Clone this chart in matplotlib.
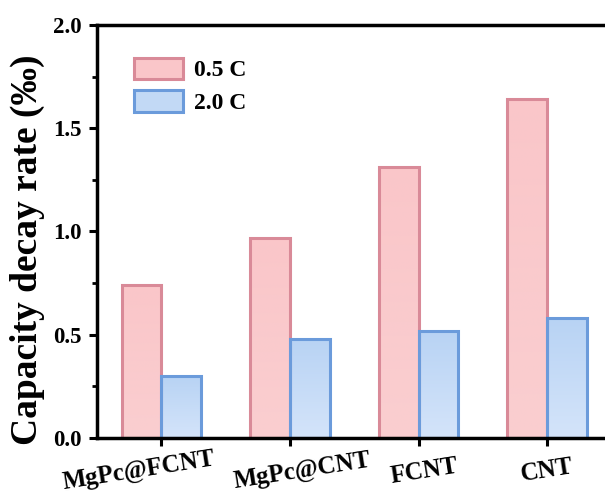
import matplotlib.pyplot as plt
import numpy as np
from matplotlib.ticker import MultipleLocator
from matplotlib.patches import Patch
from matplotlib.transforms import ScaledTranslation, blended_transform_factory

categories = ["MgPc@FCNT", "MgPc@CNT", "FCNT", "CNT"]
rate_05c = [0.74, 0.97, 1.31, 1.64]
rate_20c = [0.30, 0.48, 0.52, 0.58]
series_labels = ["0.5 C", "2.0 C"]

plt.rcParams["font.family"] = ["Liberation Serif", "DejaVu Serif"]
plt.rcParams["font.weight"] = "bold"

fig = plt.figure(figsize=(6.05, 5.01), dpi=100)
ax = fig.add_axes([0.160, 0.126, 0.840, 0.824])

x = np.arange(len(categories))
w = 0.31

pink_edge = "#d98a98"
blue_edge = "#6b9bdb"


def gradient_bars(bars, top_rgb, bottom_rgb):
    grad = np.linspace(0, 1, 64)[:, None, None]
    top = np.array(top_rgb)[None, None, :] / 255
    bot = np.array(bottom_rgb)[None, None, :] / 255
    img = top * (1 - grad) + bot * grad
    for b in bars:
        x0, y0 = b.get_x(), b.get_y()
        im = ax.imshow(img, extent=[x0, x0 + b.get_width(), y0, y0 + b.get_height()],
                       aspect="auto", origin="upper", zorder=1, interpolation="bilinear")
        im.set_clip_path(b)


b1 = ax.bar(x - w / 2, rate_05c, w, facecolor="none", edgecolor=pink_edge, linewidth=2.2, zorder=2)
b2 = ax.bar(x + w / 2, rate_20c, w, facecolor="none", edgecolor=blue_edge, linewidth=2.2, zorder=2)
gradient_bars(b1, (250, 198, 201), (250, 206, 208))
gradient_bars(b2, (184, 211, 244), (212, 228, 250))

ax.set_xlim(-0.503, 3.45)
ax.set_ylim(0, 2.0)
ax.yaxis.set_minor_locator(MultipleLocator(0.25))
ax.set_yticks([0, 0.5, 1.0, 1.5, 2.0])
ax.set_yticklabels(["0.0", "0.5", "1.0", "1.5", "2.0"], fontsize=16.5)
ax.set_xticks(x)
ax.set_xticklabels([])

# category names drawn as text: in the original they sit a bit off their ticks
shifts = [-23, 12, 6, 0]
trans = blended_transform_factory(ax.transData, ax.transAxes)
for xi, name, dx in zip(x, categories, shifts):
    ax.text(xi, -0.08, name, rotation=9, fontsize=18, ha="center", va="center",
            transform=trans + ScaledTranslation(dx / 100, 0, fig.dpi_scale_trans),
            clip_on=False)

ax.tick_params(axis="y", which="major", direction="out", length=6, width=2.2, pad=5)
ax.tick_params(axis="x", which="major", direction="out", length=6, width=2.2)
ax.tick_params(axis="y", which="minor", direction="out", length=3.5, width=2)
ax.spines["right"].set_visible(False)
for s in ["left", "top", "bottom"]:
    ax.spines[s].set_linewidth(2.5)

ax.set_ylabel("Capacity decay rate (‰)", fontsize=27, fontweight="bold")
ax.yaxis.set_label_coords(-0.102, 0.455)

handles = [
    Patch(facecolor="#fac6c9", edgecolor=pink_edge, linewidth=2.2),
    Patch(facecolor="#c2d9f5", edgecolor=blue_edge, linewidth=2.2),
]
ax.legend(handles, series_labels, loc="upper left", bbox_to_anchor=(0.045, 0.955),
          frameon=False, fontsize=17, handlelength=2.1, handleheight=1.0,
          handletextpad=0.45, labelspacing=0.38, borderaxespad=0.2)

fig.savefig("out.png", dpi=100)
